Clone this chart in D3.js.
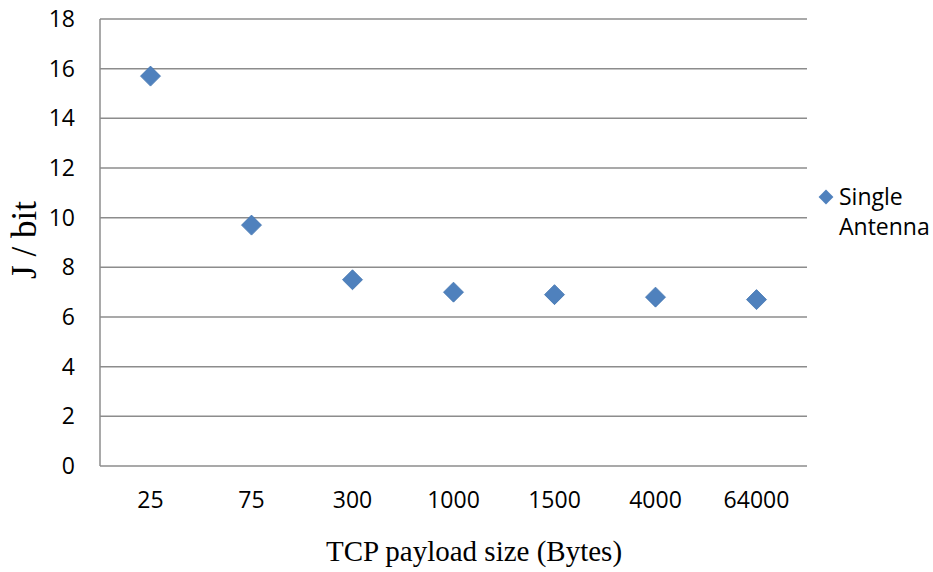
<!DOCTYPE html>
<html>
<head>
<meta charset="utf-8">
<script src="https://cdn.jsdelivr.net/npm/d3@7"></script>
<style>
  body { margin: 0; background: #fff; }
</style>
</head>
<body>
<script>
var w = 933;
var h = 572;

// data
var categories = ["25", "75", "300", "1000", "1500", "4000", "64000"];
var joulesPerBit = [15.7, 9.7, 7.5, 7.0, 6.9, 6.8, 6.7];
var yTicks = [0, 2, 4, 6, 8, 10, 12, 14, 16, 18];
var seriesName = ["Single", "Antenna"];

var plotLeft = 100, plotRight = 807, plotTop = 19, plotBottom = 466;
var gridColor = "#8c8c8c";
var markerColor = "#4f81bd";
var tickFont = "'Open Sans', 'Noto Sans', sans-serif";
var titleFont = "'Liberation Serif', 'Times New Roman', serif";

var svg = d3.select("body")
	.append("svg")
	.attr("width", w)
	.attr("height", h);

var x = d3.scaleBand()
	.domain(categories)
	.range([plotLeft, plotRight]);

var y = d3.scaleLinear()
	.domain([0, 18])
	.range([plotBottom, plotTop]);

// horizontal grid lines
svg.append("g")
	.selectAll("line")
	.data(yTicks)
	.enter()
	.append("line")
	.attr("x1", plotLeft)
	.attr("x2", plotRight)
	.attr("y1", function(d) { return y(d); })
	.attr("y2", function(d) { return y(d); })
	.style("stroke", gridColor)
	.style("stroke-width", 1.5);

// y axis line
svg.append("line")
	.attr("x1", plotLeft)
	.attr("x2", plotLeft)
	.attr("y1", plotTop)
	.attr("y2", plotBottom)
	.style("stroke", gridColor)
	.style("stroke-width", 1.5);

// y tick labels
svg.append("g")
	.selectAll("text")
	.data(yTicks)
	.enter()
	.append("text")
	.text(function(d) { return d; })
	.attr("text-anchor", "end")
	.attr("x", 75)
	.attr("y", function(d) { return y(d) + 8; })
	.attr("font-family", tickFont)
	.attr("font-size", "23px")
	.attr("fill", "#000");

// x tick labels
svg.append("g")
	.selectAll("text")
	.data(categories)
	.enter()
	.append("text")
	.text(function(d) { return d; })
	.attr("text-anchor", "middle")
	.attr("x", function(d) { return x(d) + x.bandwidth() / 2; })
	.attr("y", 508)
	.attr("font-family", tickFont)
	.attr("font-size", "23px")
	.attr("fill", "#000");

// diamond markers
var diamond = d3.symbol().type(d3.symbolSquare).size(200);
svg.append("g")
	.selectAll("path")
	.data(joulesPerBit)
	.enter()
	.append("path")
	.attr("d", diamond)
	.attr("transform", function(d, i) {
		return "translate(" + (x(categories[i]) + x.bandwidth() / 2) + "," + y(d) + ") rotate(45)";
	})
	.attr("fill", markerColor)
	.style("stroke", "#4677b2")
	.style("stroke-width", 0.8);

// axis titles
svg.append("text")
	.text("TCP payload size (Bytes)")
	.attr("text-anchor", "middle")
	.attr("x", 474)
	.attr("y", 561)
	.attr("font-family", titleFont)
	.attr("font-size", "29px")
	.attr("fill", "#000");

svg.append("text")
	.text("J / bit")
	.attr("text-anchor", "middle")
	.attr("transform", "translate(36,240) rotate(-90)")
	.attr("font-family", titleFont)
	.attr("font-size", "35px")
	.attr("fill", "#000");

// legend
svg.append("path")
	.attr("d", d3.symbol().type(d3.symbolSquare).size(110))
	.attr("transform", "translate(826,197) rotate(45)")
	.attr("fill", markerColor);

svg.append("g")
	.selectAll("text")
	.data(seriesName)
	.enter()
	.append("text")
	.text(function(d) { return d; })
	.attr("x", 839)
	.attr("y", function(d, i) { return 205 + i * 30; })
	.attr("font-family", tickFont)
	.attr("font-size", "23px")
	.attr("fill", "#000");
</script>
</body>
</html>
